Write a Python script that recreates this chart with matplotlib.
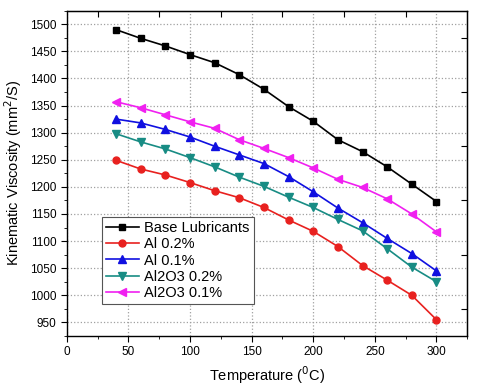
import matplotlib
matplotlib.use('Agg')
import matplotlib.pyplot as plt
from matplotlib.ticker import MultipleLocator

plt.rcParams['font.family'] = ['Liberation Sans', 'DejaVu Sans']

# temperatures (C)
temps = [40, 60, 80, 100, 120, 140, 160, 180, 200, 220, 240, 260, 280, 300]

# kinematic viscosity for each sample
base = [1490, 1474, 1460, 1444, 1429, 1407, 1380, 1348, 1321, 1287, 1265, 1237, 1205, 1173]
al_02 = [1249, 1233, 1222, 1208, 1193, 1180, 1162, 1139, 1118, 1090, 1055, 1028, 1000, 955]
al_01 = [1325, 1318, 1306, 1292, 1275, 1259, 1243, 1219, 1191, 1161, 1134, 1105, 1077, 1045]
al2o3_02 = [1298, 1283, 1270, 1254, 1237, 1218, 1201, 1181, 1162, 1140, 1119, 1086, 1052, 1025]
al2o3_01 = [1357, 1346, 1333, 1320, 1308, 1287, 1271, 1254, 1235, 1214, 1199, 1178, 1150, 1117]

labels = ['Base Lubricants', 'Al 0.2%', 'Al 0.1%', 'Al2O3 0.2%', 'Al2O3 0.1%']

fig = plt.figure(figsize=(4.8, 3.91), dpi=100)
ax = fig.add_axes([0.139, 0.1407, 0.8345, 0.832])

ax.plot(temps, base, color='black', marker='s', ms=5, lw=1.2, label=labels[0])
ax.plot(temps, al_02, color='#e8211f', marker='o', ms=5, lw=1.2, label=labels[1])
ax.plot(temps, al_01, color='#1010e0', marker='^', ms=5.5, lw=1.2, label=labels[2])
ax.plot(temps, al2o3_02, color='#188c84', marker='v', ms=5.5, lw=1.2, label=labels[3])
ax.plot(temps, al2o3_01, color='#f020f0', marker='<', ms=5.5, lw=1.2, label=labels[4])

ax.set_xlim(0, 325)
ax.set_ylim(925, 1525)
ax.xaxis.set_major_locator(MultipleLocator(50))
ax.xaxis.set_minor_locator(MultipleLocator(25))
ax.yaxis.set_major_locator(MultipleLocator(50))
ax.yaxis.set_minor_locator(MultipleLocator(25))
ax.tick_params(which='both', direction='out', labelsize=8.5)
ax.tick_params(which='major', length=4)
ax.tick_params(which='minor', length=2.5)

# inward ticks on the top and right frame
top = ax.secondary_xaxis('top')
top.set_xticks([25, 75, 125, 175, 225, 275])
top.tick_params(direction='in', length=4, labeltop=False)
right = ax.secondary_yaxis('right')
right.set_yticks([975, 1075, 1175, 1275, 1375, 1475])
right.tick_params(direction='in', length=4, labelright=False)

ax.grid(True, which='major', color='#a0a0a0', linestyle=':', linewidth=0.9)

ax.set_xlabel('Temperature ($^{0}$C)', fontsize=10.5)
ax.set_ylabel('Kinematic Viscosity (mm$^{2}$/S)', fontsize=10.5)

for s in ax.spines.values():
    s.set_linewidth(1.0)

leg = ax.legend(loc='lower left', bbox_to_anchor=(0.07, 0.075), fontsize=10.5,
                frameon=True, fancybox=False, edgecolor='#555555', framealpha=1,
                handlelength=2.2, borderpad=0.3, labelspacing=0.15, handletextpad=0.4)
leg.get_frame().set_linewidth(0.8)

fig.savefig('out.png', dpi=100)
